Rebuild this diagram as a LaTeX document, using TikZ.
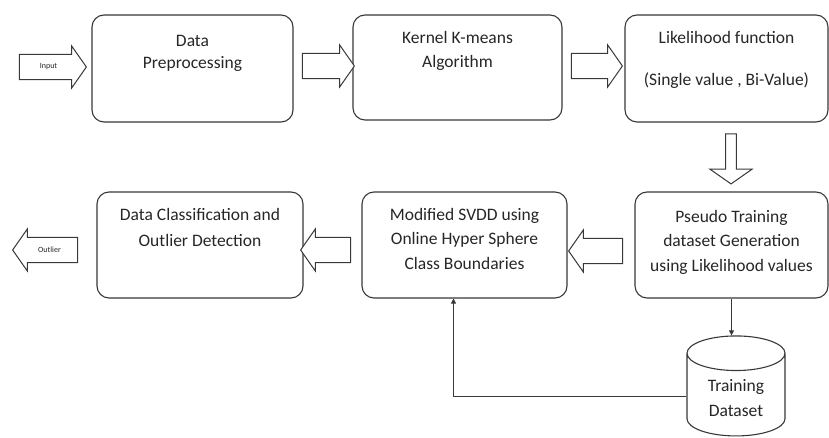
\documentclass[tikz,border=0pt]{standalone}
\usepackage{fontspec}
\setmainfont{Carlito}
\usetikzlibrary{arrows.meta,shapes.arrows,shapes.geometric}

\begin{document}
\begin{tikzpicture}[x=1pt,y=-1pt,
    box/.style={draw=black!78, line width=1.1pt, rounded corners=12pt, minimum height=107pt},
    boxtext/.style={anchor=north, align=center, inner sep=0pt, text=black!85,
        font=\fontsize{17.5}{24.5}\selectfont},
    fatarrow/.style={single arrow, draw=black!78, line width=1pt, fill=white,
        minimum width=42pt, single arrow tip angle=110, inner xsep=2pt, inner ysep=6pt,
        text height=6pt, text depth=2pt, text=black!85, font=\fontsize{8}{9}\selectfont},
    db/.style={cylinder, shape border rotate=90, draw=black!78, line width=1.1pt,
        aspect=0.55, minimum width=98pt, minimum height=100pt, align=center, text=black!85,
        font=\fontsize{17.5}{24.5}\selectfont},
    link/.style={draw=black!78, line width=1pt, -{Triangle[length=5pt,width=5pt]}}]
    \useasboundingbox (0,0) rectangle (829,438);

    % Top row
    \node[box, minimum width=201pt] (prep) at (192.5,68.5) {};
    \node[boxtext] (prep-txt) at (192.5,35) {Data\\[-2.5pt]Preprocessing};

    \node[box, minimum width=209pt, minimum height=105pt] (kmeans) at (457.5,67.5) {};
    \node[boxtext] (kmeans-txt) at (457.5,31) {Kernel K-means\\Algorithm};

    \node[box, minimum width=203pt] (lik) at (726.5,68.5) {};
    \node[boxtext] (lik-txt) at (726.5,31) {Likelihood function\\[17.5pt](Single value , Bi-Value)};

    % Bottom row
    \node[box, minimum width=206pt, minimum height=106pt] (classif) at (200,245) {};
    \node[boxtext] (classif-txt) at (200,208) {Data Classification and\\[2pt]Outlier Detection};

    \node[box, minimum width=205pt, minimum height=106pt] (svdd) at (464.5,245) {};
    \node[boxtext] (svdd-txt) at (464.5,208) {Modified SVDD using\\Online Hyper Sphere\\Class Boundaries};

    \node[box, minimum width=193pt, minimum height=106pt] (pseudo) at (731.5,245) {};
    \node[boxtext] (pseudo-txt) at (731.5,210) {Pseudo Training\\dataset Generation\\using Likelihood values};

    % Training data store
    \node[db] (train) at (736,398) {Training\\Dataset};

    % Block arrows between the stages
    \node[fatarrow, minimum height=67pt] (input) at (48.5,67) {Input};
    \node[fatarrow, minimum height=52pt] (a1) at (324,66) {};
    \node[fatarrow, minimum height=51pt] (a2) at (592.5,66) {};
    \node[fatarrow, minimum height=50pt, shape border rotate=270] (a3) at (731,157) {};
    \node[fatarrow, minimum height=54pt, shape border rotate=180] (a4) at (600,251) {};
    \node[fatarrow, minimum height=50pt, shape border rotate=180] (a5) at (330,250) {};
    \node[fatarrow, minimum height=65pt, shape border rotate=180] (outlier) at (49.5,250) {Outlier};

    % Feedback through the training set
    \draw[link] (pseudo.south) -- (pseudo.south |- train.north);
    \draw[link] ([yshift=1pt]train.west) -| ([xshift=-11pt]svdd.south);
\end{tikzpicture}
\end{document}
